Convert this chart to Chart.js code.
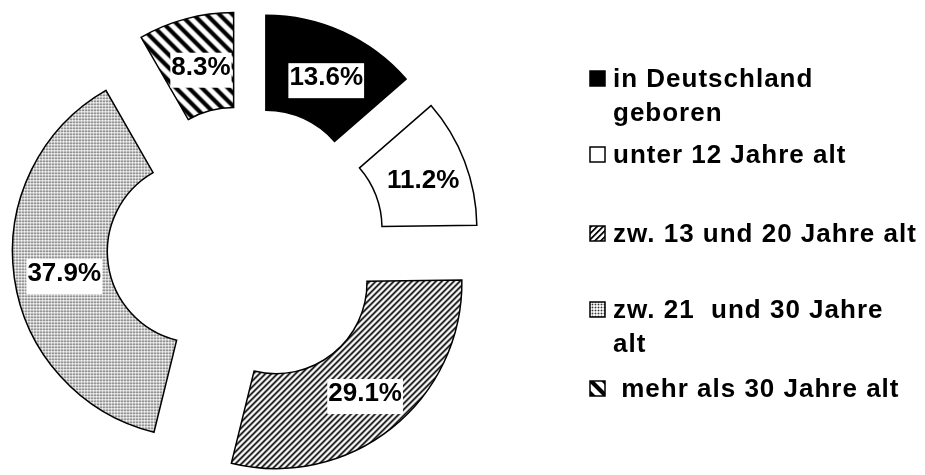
<!DOCTYPE html>
<html>
<head>
<meta charset="utf-8">
<script src="https://cdn.jsdelivr.net/npm/chart.js@4"></script>
<style>
  body { margin: 0; background: #fff; }
  #wrap { position: relative; width: 925px; height: 475px; }
</style>
</head>
<body>
<div id="wrap"><canvas id="origin-chart"></canvas></div>
<script>
const categories = ['in Deutschland geboren', 'unter 12 Jahre alt', 'zw. 13 und 20 Jahre alt', 'zw. 21  und 30 Jahre alt', 'mehr als 30 Jahre alt'];
const legendLines = [['in Deutschland', 'geboren'], ['unter 12 Jahre alt'], ['zw. 13 und 20 Jahre alt'], ['zw. 21  und 30 Jahre', 'alt'], [' mehr als 30 Jahre alt']];
const shares = [13.6, 11.2, 29.1, 37.9, 8.3];

// Fill patterns (drawn pixel by pixel, like the old print hatchings)

function tile(size, colorAt) {
    const c = document.createElement('canvas');
    c.width = size;
    c.height = size;
    const g = c.getContext('2d');
    for (let x = 0; x < size; x++) {
        for (let y = 0; y < size; y++) {
            g.fillStyle = colorAt(x, y);
            g.fillRect(x, y, 1, 1);
        }
    }
    return g.createPattern(c, 'repeat');
}

const fills = [
    '#000',
    '#fff',
    tile(6, (x, y) => ['#111', '#111', '#888', '#fff', '#fff', '#ddd'][(x + y) % 6]),
    tile(3, (x, y) => (x == 1 && y == 1) ? '#333' : (x == 1 || y == 1) ? '#b8b8b8' : '#f2f2f2'),
    tile(13, (x, y) => {
        const k = ((x - y) % 13 + 13) % 13;
        return k < 5 ? '#000' : k == 5 || k == 12 ? '#888' : '#fff';
    })
];

const explode = 48;
const labelFont = 'bold 26px "Liberation Sans", Arial, sans-serif';

// Pulled-out slices, value boxes and the legend

const explodePlugin = {
    id: 'explode',
    beforeDatasetDraw(chart, args) {
        const ctx = chart.ctx;
        args.meta.data.forEach(arc => {
            const mid = (arc.startAngle + arc.endAngle) / 2;
            ctx.save();
            ctx.translate(Math.cos(mid) * explode, Math.sin(mid) * explode);
            arc.draw(ctx);
            ctx.restore();
        });
        return false;
    },
    afterDraw(chart) {
        const ctx = chart.ctx;
        const arcs = chart.getDatasetMeta(0).data;

        ctx.save();
        ctx.font = labelFont;
        ctx.textAlign = 'center';
        ctx.textBaseline = 'middle';
        arcs.forEach((arc, i) => {
            const mid = (arc.startAngle + arc.endAngle) / 2;
            const r = (arc.innerRadius + arc.outerRadius) / 2 + explode;
            const x = arc.x + Math.cos(mid) * r + 3;
            const y = arc.y + Math.sin(mid) * r + 3;
            const text = shares[i].toFixed(1) + '%';
            const w = ctx.measureText(text).width;
            ctx.fillStyle = '#fff';
            ctx.fillRect(x - w / 2 - 1, y - 15, w + 2, 35);
            ctx.fillStyle = '#000';
            ctx.fillText(text, x, y);
        });

        // legend
        const baselines = [87, 163, 242, 318, 397];
        ctx.textAlign = 'left';
        ctx.textBaseline = 'alphabetic';
        ctx.letterSpacing = '1px';
        legendLines.forEach((lines, i) => {
            const b = baselines[i];
            ctx.fillStyle = fills[i];
            ctx.fillRect(590, b - 16, 15, 15);
            ctx.strokeStyle = '#000';
            ctx.lineWidth = 1.5;
            ctx.strokeRect(590, b - 16, 15, 15);
            ctx.fillStyle = '#000';
            lines.forEach((line, k) => ctx.fillText(line, 613, b + k * 34));
        });
        ctx.restore();
    }
};

const originChart = document.getElementById('origin-chart');

var doughnutChart = new Chart(originChart, {
    type: 'doughnut',
    data: {
        labels: categories,
        datasets: [{
            data: shares,
            backgroundColor: fills,
            borderColor: '#000',
            borderWidth: 1.5,
            borderJoinStyle: 'miter'
        }]
    },
    options: {
        responsive: true,
        maintainAspectRatio: false,
        animation: false,
        radius: 186,
        cutout: '49%',
        layout: {
            padding: { left: 0, right: 433, top: 15, bottom: 0 }
        },
        plugins: {
            legend: { display: false },
            tooltip: { enabled: false }
        }
    },
    plugins: [explodePlugin]
});
</script>
</body>
</html>
